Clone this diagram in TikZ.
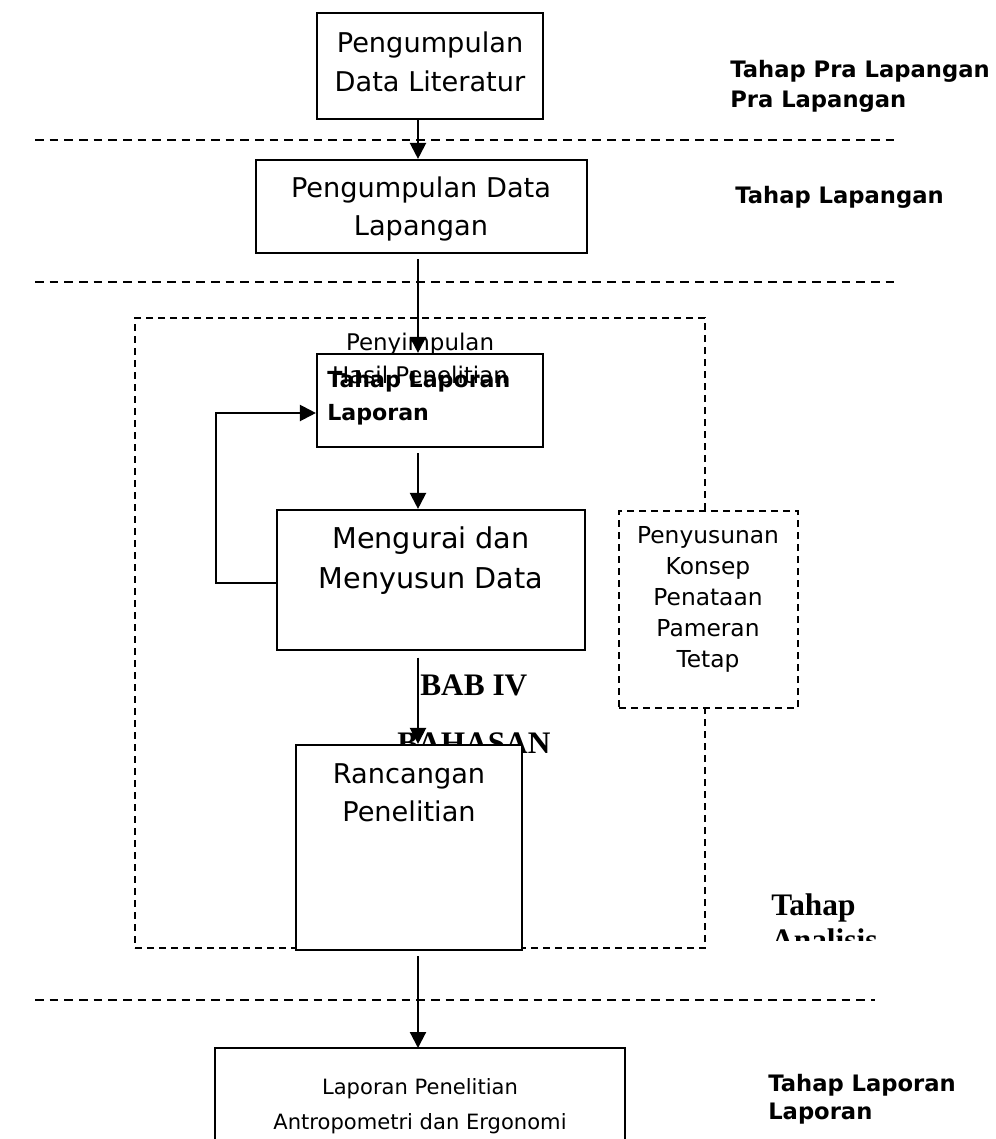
\documentclass[tikz,border=0pt]{standalone}
\usepackage{fontspec}
\setmainfont{DejaVu Sans}
\newfontfamily\tnr{Liberation Serif}
\usetikzlibrary{arrows.meta,fit}
\begin{document}
\begin{tikzpicture}[x=0.75pt,y=-0.75pt,
  box/.style={draw, line width=1.6pt, inner sep=0pt, fill=white},
  dbox/.style={draw, line width=1.4pt, dash pattern=on 5.5pt off 3.5pt, inner sep=0pt},
  sep/.style={line width=1.4pt, dash pattern=on 6.5pt off 4.5pt},
  arr/.style={line width=1.6pt, -{Triangle[length=12pt,width=12pt]}},
  txt/.style={anchor=base, inner sep=0pt},
  ltxt/.style={anchor=base west, inner sep=0pt},
  bigf/.style={font=\fontsize{20.4}{24}\selectfont},
  mgf/.style={font=\fontsize{21.5}{24}\selectfont},
  midf/.style={font=\fontsize{17.2}{20}\selectfont},
  smf/.style={font=\fontsize{17.5}{20}\selectfont},
  botf/.style={font=\fontsize{15.8}{20}\selectfont},
  boldf/.style={font=\fontsize{16.6}{20}\selectfont\bfseries},
  boldl/.style={font=\fontsize{17}{20}\selectfont\bfseries},
  serf/.style={font=\fontsize{23.5}{28}\selectfont\tnr\bfseries}
]
\useasboundingbox (0,0) rectangle (996,1139);
\coordinate (ax) at (418,0);

% separators
\coordinate (s1a) at (35,140);  \coordinate (s1b) at (898,140);
\coordinate (s2a) at (35,282);  \coordinate (s2b) at (898,282);
\coordinate (s3a) at (35,1000); \coordinate (s3b) at (875,1000);
\draw[sep] (s1a) -- (s1b);
\draw[sep] (s2a) -- (s2b);
\draw[sep] (s3a) -- (s3b);

% big dashed frame
\node[dbox, fit={(135,318) (705,948)}] (frame) {};

% Penyusunan box
\node[dbox, fill=white, fit={(619,511) (798,708)}] (pk) {};
\node[txt, smf] (pk1) at (708,543) {Penyusunan};
\node[txt, smf] (pk2) at (708,574) {Konsep};
\node[txt, smf] (pk3) at (708,605) {Penataan};
\node[txt, smf] (pk4) at (708,636) {Pameran};
\node[txt, smf] (pk5) at (708,667) {Tetap};

% box 1
\node[box, fit={(317,13) (543,119)}] (b1) {};
\node[txt, bigf] (b1t1) at (430,52) {Pengumpulan};
\node[txt, bigf] (b1t2) at (430,91) {Data Literatur};

% box 2
\node[box, fit={(256,160) (587,253)}] (b2) {};
\node[txt, bigf] (b2t1) at (421,197) {Pengumpulan Data};
\node[txt, bigf] (b2t2) at (421,235) {Lapangan};

% box 3
\node[box, fit={(317,354) (543,447)}] (b3) {};
\node[txt, midf] (b3t1) at (420,350) {Penyimpulan};
\node[txt, midf] (b3t2) at (420,383) {Hasil Penelitian};
\node[ltxt, boldf] (b3t3) at (327,387) {Tahap Laporan};
\node[ltxt, boldf] (b3t4) at (327,420) {Laporan};

% Mengurai
\node[box, fit={(277,510) (585,650)}] (m) {};
\node[txt, mgf] (mt1) at (431,548) {Mengurai dan};
\node[txt, mgf] (mt2) at (431,588) {Menyusun Data};

% BAB IV
\node[ltxt, serf] (bab) at (420,695) {BAB IV};
\node[ltxt, serf] (bah) at (397,753) {BAHASAN};

% Rancangan
\node[box, fit={(296,745) (522,950)}] (r) {};
\node[txt, bigf] (rt1) at (409,783) {Rancangan};
\node[txt, bigf] (rt2) at (409,821) {Penelitian};

% bottom box
\coordinate (bbl) at (215,1048); \coordinate (bbr) at (625,1048);
\coordinate (bbl2) at (215,1145); \coordinate (bbr2) at (625,1145);
\draw[line width=1.6pt] (bbl2) -- (bbl) -- (bbr) -- (bbr2);
\node[txt, botf] (lt1) at (420,1094) {Laporan Penelitian};
\node[txt, botf] (lt2) at (420,1129) {Antropometri dan Ergonomi};

% right labels
\node[ltxt, boldl] (l1) at (730,77) {Tahap Pra Lapangan};
\begin{scope}
  \clip (700,84) rectangle (996,112);
  \node[ltxt, boldl] (l1b) at (730,107) {Pra Lapangan};
\end{scope}
\node[ltxt, boldl] (l2) at (735,203) {Tahap Lapangan};
\node[ltxt, serf] (l3) at (771,915) {Tahap};
\begin{scope}
  \clip (700,924) rectangle (996,940);
  \node[ltxt, serf] (l3b) at (771,950) {Analisis};
\end{scope}
\node[ltxt, boldl] (l4) at (768,1091) {Tahap Laporan};
\node[ltxt, boldl] (l4b) at (768,1119) {Laporan};

% arrows
\draw[arr] (b1.south -| ax) -- (b2.north -| ax);
\draw[arr, shorten <=4pt] (b2.south -| ax) -- (b3.north -| ax);
\draw[arr, shorten <=4pt] (b3.south -| ax) -- (m.north -| ax);
\draw[arr, shorten <=5pt] (m.south -| ax) -- (r.north -| ax);
\draw[arr, shorten <=4pt] (r.south -| ax) -- (bbl -| ax);

% feedback loop
\coordinate (fbA) at (216,583);
\coordinate (fbB) at (216,413);
\draw[arr] (m.west |- fbA) -- (fbA) -- (fbB) -- (b3.west |- fbB);
\end{tikzpicture}
\end{document}
